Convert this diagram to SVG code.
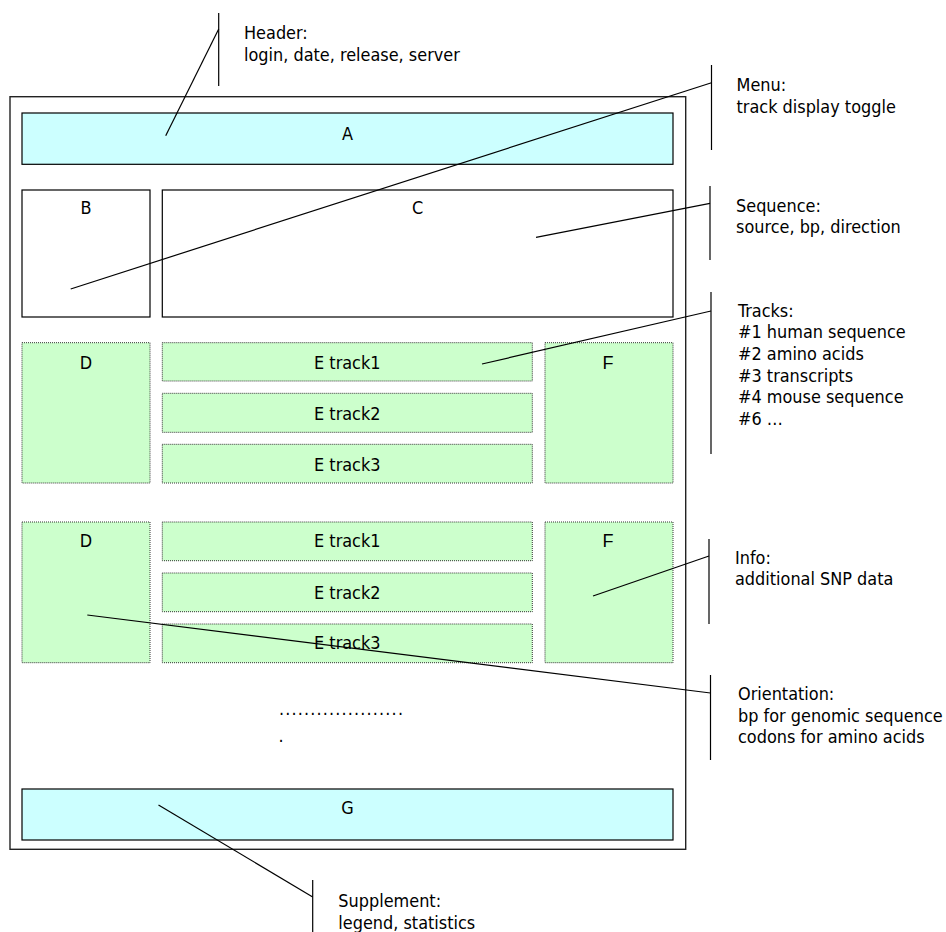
<svg xmlns="http://www.w3.org/2000/svg" width="946" height="932" viewBox="0 0 946 932">
<style>
text{font-family:"DejaVu Sans Condensed","Liberation Sans",Arial,sans-serif;font-stretch:condensed;font-size:17.9px;fill:#000}
text.ar{font-family:"Liberation Sans",Arial,sans-serif;font-stretch:normal;font-size:18px}
.c{text-anchor:middle}
.cyan{fill:#ccffff;stroke:#000;stroke-width:1.2}
.white{fill:#fff;stroke:#000;stroke-width:1.2}
.green{fill:#ccffcc;stroke:#333;stroke-width:1;stroke-dasharray:1 1}
.ln{stroke:#000;stroke-width:1.2;fill:none}
</style>
<rect width="946" height="932" fill="#fff"/>
<g id="frame"><rect x="10" y="96.7" width="675.7" height="752.6" fill="#fff" stroke="#222" stroke-width="1.4"/></g>
<g id="A"><rect class="cyan" x="22" y="113" width="651" height="51.3"/><text class="c" x="347.5" y="139.5">A</text></g>
<g id="B"><rect class="white" x="22" y="190" width="128" height="127"/><text class="c" x="86" y="214">B</text></g>
<g id="C"><rect class="white" x="162.3" y="190" width="510.7" height="127"/><text class="c" x="417.5" y="214">C</text></g>
<g id="D1"><rect class="green" x="22" y="342.7" width="128" height="140.3"/><text class="c" x="86" y="369">D</text></g>
<g id="E1a"><rect class="green" x="162.3" y="342.7" width="370" height="38.3"/><text class="c" x="347.3" y="369">E track1</text></g>
<g id="E1b"><rect class="green" x="162.3" y="393.3" width="370" height="39"/><text class="c" x="347.3" y="419.5">E track2</text></g>
<g id="E1c"><rect class="green" x="162.3" y="444.3" width="370" height="38.7"/><text class="c" x="347.3" y="470.5">E track3</text></g>
<g id="F1"><rect class="green" x="545" y="342.7" width="128" height="140.3"/><text class="c ar" x="608" y="368.5">F</text></g>
<g id="D2"><rect class="green" x="22" y="522" width="128" height="140.7"/><text class="c" x="86" y="547">D</text></g>
<g id="E2a"><rect class="green" x="162.3" y="522" width="370" height="38.7"/><text class="c" x="347.3" y="547">E track1</text></g>
<g id="E2b"><rect class="green" x="162.3" y="573" width="370" height="38.7"/><text class="c" x="347.3" y="599">E track2</text></g>
<g id="E2c"><rect class="green" x="162.3" y="624" width="370" height="38.7"/><text class="c" x="347.3" y="649">E track3</text></g>
<g id="F2"><rect class="green" x="545" y="522" width="128" height="140.7"/><text class="c ar" x="608" y="547">F</text></g>
<g id="more"><text x="279" y="715" textLength="124" lengthAdjust="spacing">....................</text><text x="278.5" y="742">.</text></g>
<g id="G"><rect class="cyan" x="22" y="789" width="651" height="51"/><text class="c" x="347.5" y="814">G</text></g>
<g id="connectors">
<line class="ln" x1="218.7" y1="13" x2="218.7" y2="86"/>
<line class="ln" x1="218.7" y1="29" x2="165.7" y2="135.7"/>
<line class="ln" x1="711.5" y1="65" x2="711.5" y2="150"/>
<line class="ln" x1="711.5" y1="82.7" x2="70.7" y2="289"/>
<line class="ln" x1="710" y1="186" x2="710" y2="260"/>
<line class="ln" x1="710" y1="203.3" x2="536" y2="237.3"/>
<line class="ln" x1="711" y1="292" x2="711" y2="454"/>
<line class="ln" x1="711" y1="311" x2="482" y2="364"/>
<line class="ln" x1="709" y1="539" x2="709" y2="624"/>
<line class="ln" x1="709" y1="556" x2="593" y2="596"/>
<line class="ln" x1="710.5" y1="675" x2="710.5" y2="760"/>
<line class="ln" x1="710.5" y1="693" x2="87.3" y2="615"/>
<line class="ln" x1="312.7" y1="880" x2="312.7" y2="932"/>
<line class="ln" x1="312.7" y1="897" x2="158.5" y2="805"/>
</g>
<g id="labels">
<text x="244" y="39">Header:</text><text x="244" y="60.5">login, date, release, server</text>
<text x="736.5" y="91">Menu:</text><text x="736.5" y="112.7">track display toggle</text>
<text x="736" y="211.7">Sequence:</text><text x="736" y="233.4">source, bp, direction</text>
<text x="738" y="316.7">Tracks:</text><text x="738" y="338.3">#1 human sequence</text><text x="738" y="360">#2 amino acids</text><text x="738" y="381.7">#3 transcripts</text><text x="738" y="403.3">#4 mouse sequence</text><text x="738" y="425">#6 …</text>
<text x="735" y="563.5">Info:</text><text x="735" y="585.2">additional SNP data</text>
<text x="738" y="700">Orientation:</text><text x="738" y="721.7">bp for genomic sequence</text><text x="738" y="743.3">codons for amino acids</text>
<text x="338.3" y="907">Supplement:</text><text x="338.3" y="928.7">legend, statistics</text>
</g>
</svg>
